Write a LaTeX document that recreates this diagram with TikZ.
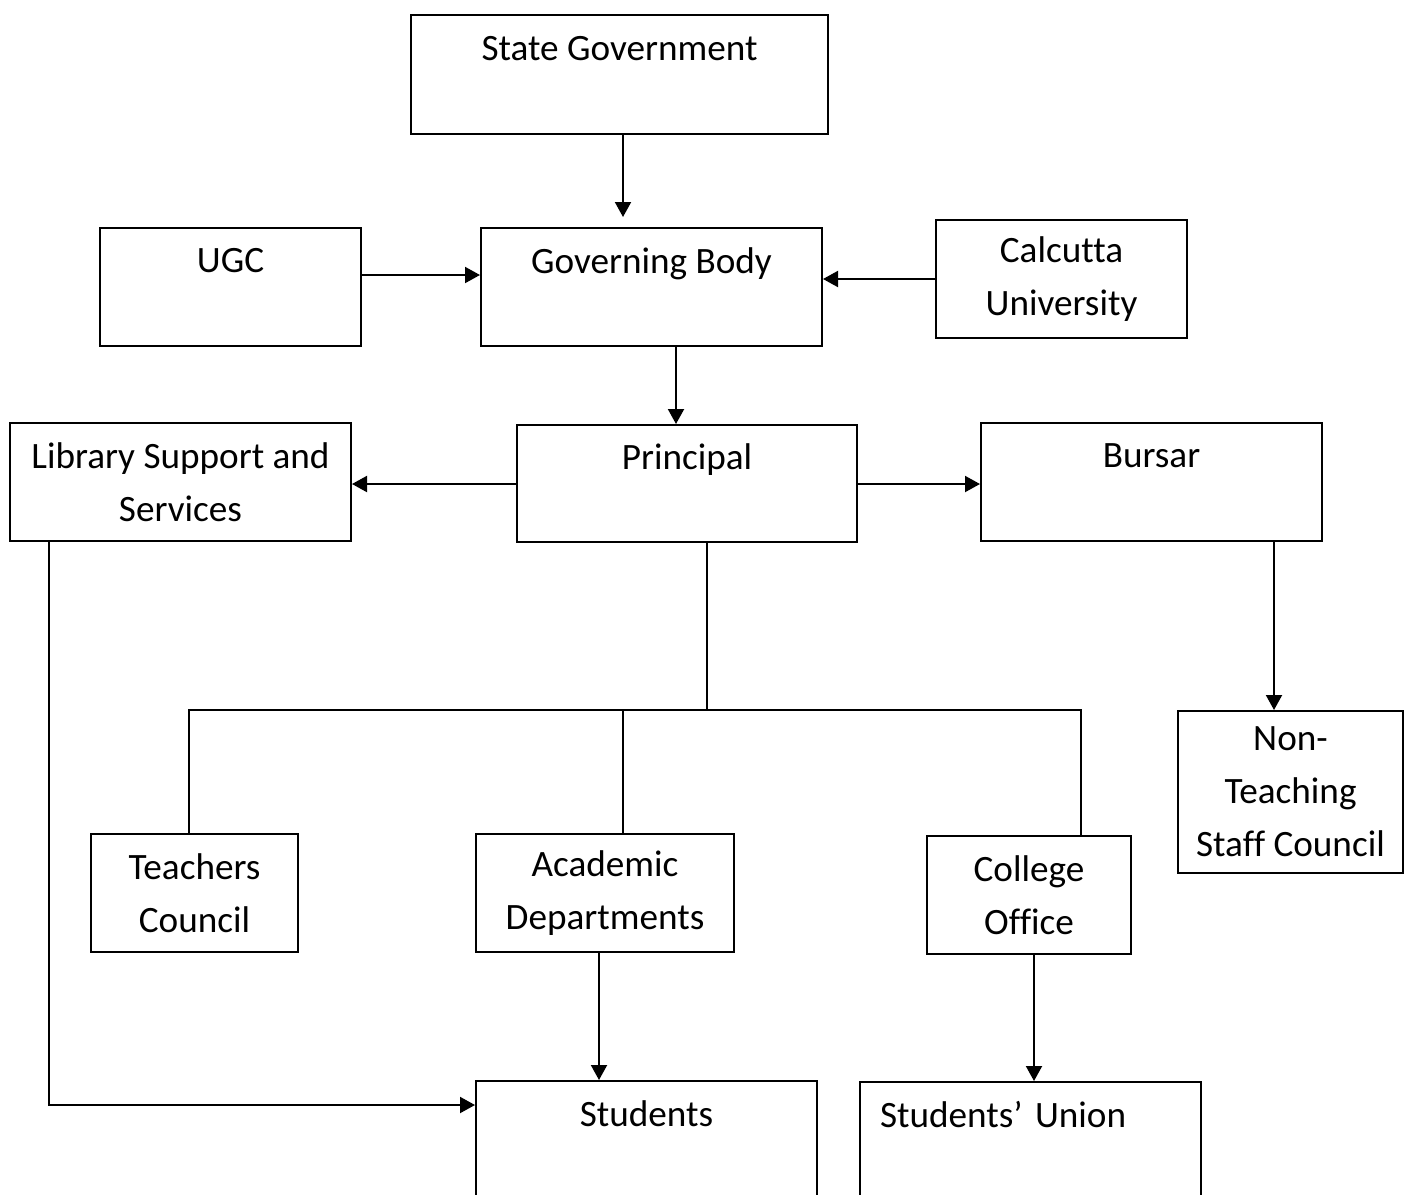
\documentclass[tikz,border=0pt]{standalone}
\usepackage{fontspec}
\setmainfont{Carlito}[Ligatures=NoCommon]
\usetikzlibrary{positioning}
\usetikzlibrary {arrows.meta}
\tikzset{orgbox/.style={rectangle,draw=black,fill=white,line width=1pt,
inner sep=0pt,align=center,minimum height=59pt}}
\tikzset{orgline/.style={line width=1pt}}
\tikzset{orgarrow/.style={line width=1pt,-{Triangle[length=7.5pt,width=8pt]}}}

\begin{document}
\begin{tikzpicture}[x=0.5pt,y=-0.5pt,font=\fontsize{18.6}{26.5}\selectfont]
        \clip (0,0) rectangle (1404,1195);

        \node[orgbox,minimum width=208.5pt,minimum height=59.5pt] (stategov) at (619.5,74.5) {State Government\\\mbox{}};
        \node[orgbox,minimum width=130.5pt] (ugc) at (230.5,287) {UGC\\\mbox{}};
        \node[orgbox,minimum width=170.5pt] (gb) at (651.5,287) {Governing Body\\\mbox{}};
        \node[orgbox,minimum width=125.5pt] (cu) at (1061.5,279) {Calcutta\\University};

        \node[orgbox,minimum width=170.5pt] (library) at (180.5,482) {Library Support and\\Services};
        \node[orgbox,minimum width=170pt,minimum height=58.5pt] (principal) at (687,483.5) {Principal\\\mbox{}};
        \node[orgbox,minimum width=170.5pt] (bursar) at (1151.5,482) {Bursar\\\mbox{}};
        \node[orgbox,minimum width=112.5pt,minimum height=81pt] (nonteach) at (1290.5,792) {Non-\\Teaching\\Staff Council};

        \node[orgbox,minimum width=103.5pt] (teachers) at (194.5,893) {Teachers\\Council};
        \node[orgbox,minimum width=129pt] (academic) at (605,893) {Academic\\Departments};
        \node[orgbox,minimum width=102pt] (office) at (1029,895) {College\\Office};

        \node[orgbox,minimum width=170.5pt] (students) at (646.5,1140) {Students\\\mbox{}};
        \node[orgbox,minimum width=170.5pt,align=left,text width=150.5pt] (union) at (1030.5,1141) {Students’ Union\\\mbox{}};

        % top of the chart
        \draw[orgarrow] (stategov.south -| 623,0) -- ([yshift=5pt]gb.north -| 623,0);
        \draw[orgarrow] (ugc.east |- 0,275) -- (gb.west |- 0,275);
        \draw[orgarrow] (cu.west |- 0,279) -- (gb.east |- 0,279);
        \draw[orgarrow] (gb.south -| 676,0) -- (principal.north -| 676,0);
        \draw[orgarrow] (principal.west |- 0,484) -- (library.east |- 0,484);
        \draw[orgarrow] (principal.east |- 0,484) -- (bursar.west |- 0,484);
        \draw[orgarrow] (bursar.south -| 1274,0) -- (nonteach.north -| 1274,0);

        % branches below the principal
        \coordinate (split) at (707,710);
        \draw[orgline] (principal.south -| split) -- (split);
        \draw[orgline] (teachers.north -| 189,0) -- (189,710) -- (1081,710) -- (office.north -| 1081,0);
        \draw[orgline] (academic.north -| 623,0) -- (623,710);

        % down to the students
        \draw[orgarrow] (academic.south -| 599,0) -- (students.north -| 599,0);
        \draw[orgarrow] (office.south -| 1034,0) -- (union.north -| 1034,0);
        \draw[orgarrow] (library.south -| 49,0) |- (students.west |- 0,1105);

    \end{tikzpicture}
\end{document}
